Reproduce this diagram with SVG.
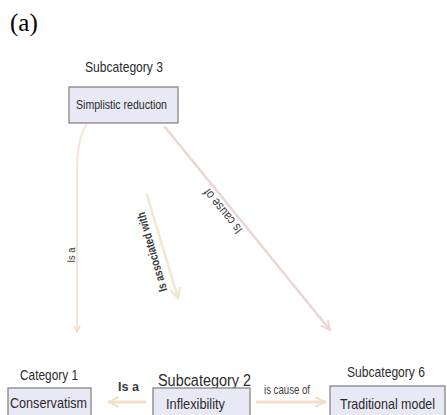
<svg xmlns="http://www.w3.org/2000/svg" width="447" height="415" viewBox="0 0 447 415">
<style>
  .box { fill: #e9e8f5; stroke: #858585; stroke-width: 1.3; }
  .t { font-family: "Liberation Sans", Arial, sans-serif; fill: #2b2b2b; }
  .lbl { font-family: "Liberation Sans", Arial, sans-serif; fill: #3a3a3a; }
  .edge { fill: none; stroke-linecap: round; }
</style>
<defs>
  <marker id="headPeach" viewBox="0 0 10 10" refX="9" refY="5" markerWidth="4" markerHeight="4" orient="auto" markerUnits="strokeWidth">
    <path d="M1,1 L9,5 L1,9" fill="none" stroke="#f1dcc6" stroke-width="1.6"/>
  </marker>
  <marker id="headPink" viewBox="0 0 10 10" refX="9" refY="5" markerWidth="4.5" markerHeight="4.5" orient="auto" markerUnits="strokeWidth">
    <path d="M1,1 L9,5 L1,9" fill="none" stroke="#ead6d2" stroke-width="1.6"/>
  </marker>
  <marker id="headYellow" viewBox="0 0 10 10" refX="9" refY="5" markerWidth="5" markerHeight="5" orient="auto" markerUnits="strokeWidth">
    <path d="M1,1 L9,5 L1,9" fill="none" stroke="#efe6cc" stroke-width="1.8"/>
  </marker>
</defs>

<text x="10" y="31" font-family="Liberation Serif, Times New Roman, serif" font-size="25" fill="#000">(a)</text>

<g id="connectors">
  <path class="edge" d="M86,125 Q77,140 77,172 L77,332" stroke="#f3e6d9" stroke-width="2" marker-end="url(#headPeach)"/>
  <line class="edge" x1="147" y1="195" x2="178" y2="298" stroke="#f0e9cf" stroke-width="2.5" marker-end="url(#headYellow)"/>
  <line class="edge" x1="165" y1="127" x2="330" y2="330" stroke="#ead7d3" stroke-width="2.5" marker-end="url(#headPink)"/>
  <line class="edge" x1="145" y1="402" x2="109" y2="402" stroke="#f4dfc9" stroke-width="3" marker-end="url(#headPeach)"/>
  <line class="edge" x1="257" y1="402" x2="325" y2="402" stroke="#f4dfc9" stroke-width="3" marker-end="url(#headPeach)"/>
  <text class="lbl" font-size="11" text-anchor="middle" textLength="15" lengthAdjust="spacingAndGlyphs" transform="translate(75,255) rotate(-90)">Is a</text>
  <text class="lbl" font-size="12" font-weight="bold" fill="#111" text-anchor="middle" textLength="82" lengthAdjust="spacingAndGlyphs" transform="translate(152,252) rotate(-106)" dy="4">Is associated with</text>
  <text class="lbl" font-size="13" text-anchor="middle" textLength="54" lengthAdjust="spacingAndGlyphs" transform="translate(223,211) rotate(-129)" dy="4">Is cause of</text>
  <text class="lbl" font-size="12" font-weight="bold" fill="#111" x="118" y="391" textLength="21" lengthAdjust="spacingAndGlyphs">Is a</text>
  <text class="lbl" font-size="12" x="264" y="394" textLength="46" lengthAdjust="spacingAndGlyphs">is cause of</text>
</g>

<g id="subcategory3">
  <text class="t" font-size="15" x="85" y="72" textLength="78" lengthAdjust="spacingAndGlyphs">Subcategory 3</text>
  <rect class="box" x="69" y="87" width="109" height="36"/>
  <text class="t" font-size="13" x="76" y="109" textLength="91" lengthAdjust="spacingAndGlyphs">Simplistic reduction</text>
</g>

<g id="category1">
  <text class="t" font-size="15" x="20" y="380" textLength="58" lengthAdjust="spacingAndGlyphs">Category 1</text>
  <rect class="box" x="8" y="388" width="83" height="35"/>
  <text class="t" font-size="15" x="10" y="408" textLength="77" lengthAdjust="spacingAndGlyphs">Conservatism</text>
</g>

<g id="subcategory2">
  <text class="t" font-size="16" x="158" y="386" textLength="93" lengthAdjust="spacingAndGlyphs">Subcategory 2</text>
  <rect class="box" x="153" y="388" width="97" height="35"/>
  <text class="t" font-size="15" x="166" y="409" textLength="59" lengthAdjust="spacingAndGlyphs">Inflexibility</text>
</g>

<g id="subcategory6">
  <text class="t" font-size="15" x="347" y="377" textLength="78" lengthAdjust="spacingAndGlyphs">Subcategory 6</text>
  <rect class="box" x="330" y="386" width="115" height="35"/>
  <text class="t" font-size="15" x="340" y="409" textLength="95" lengthAdjust="spacingAndGlyphs">Traditional model</text>
</g>
</svg>
